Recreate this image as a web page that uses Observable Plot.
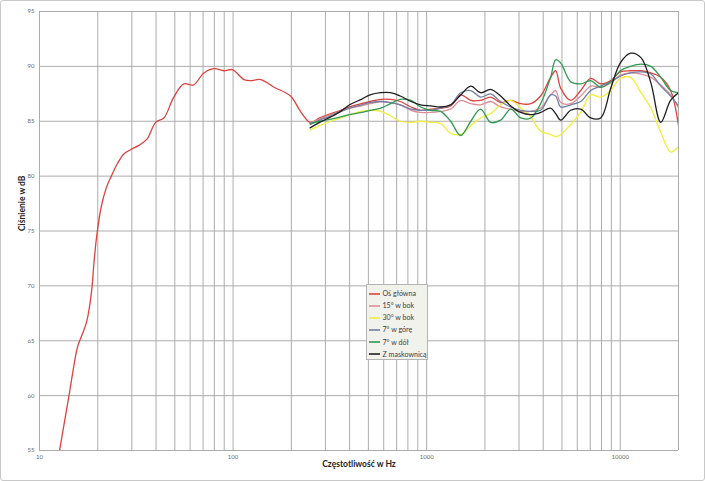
<!DOCTYPE html>
<html><head><meta charset="utf-8">
<script src="https://cdn.jsdelivr.net/npm/d3@7"></script>
<script src="https://cdn.jsdelivr.net/npm/@observablehq/plot@0.6"></script>
<style>
body{margin:0;background:#fff;}
#wrap{position:relative;width:705px;height:481px;font-family:Lato,"Open Sans",sans-serif;}
#frame{position:absolute;left:0;top:0;width:705px;height:481px;box-sizing:border-box;border:1px solid #c8c8c8;border-radius:3px;pointer-events:none;}
#legend{position:absolute;left:366px;top:284px;width:62px;height:76px;box-sizing:border-box;background:#f2f2ec;border:1px solid #b4b4b4;font-size:7.1px;color:#404040;}
.row{position:absolute;left:2px;height:10px;display:flex;align-items:center;white-space:nowrap;}
.row svg{margin-right:2.5px;}
</style></head>
<body><div id="wrap"><div id="chart"></div><div id="legend"></div><div id="frame"></div></div>
<script>
const seriesNames = ["Oś główna","15° w bok","30° w bok","7° w górę","7° w dół","Z maskownicą"];
const seriesColors = ["#d9443f","#dc8e98","#f2ee3a","#6f7fa3","#2f9a52","#1e1e1e"];
const xTitle = "Częstotliwość w Hz";
const yTitle = "Ciśnienie w dB";
const xTickLabels = [10,100,1000,10000];
const yTicks = [55,60,65,70,75,80,85,90,95];
const xGrid = [10,20,30,40,50,60,70,80,90,100,200,300,400,500,600,700,800,900,1000,2000,3000,4000,5000,6000,7000,8000,9000,10000,20000];

// low-frequency part of the main-axis curve
const freqLow = [12.7,14.2,15.7,16.3,17.5,18.2,18.7,19.2,19.9,20.9,22.2,23.5,25.2,27.2,29.5,32.6,36.0,39.8,43.9,49.4,55.7,62.3,70.7,79.6,89.6,99,114,123,139,163,198,223];
const mainLow = [55.0,60.0,64.4,65.2,66.7,68.3,70.0,72.5,75.0,77.3,79.0,80.0,81.1,82.0,82.4,82.8,83.4,84.9,85.3,87.2,88.4,88.3,89.4,89.8,89.6,89.7,88.8,88.7,88.8,88.1,87.3,85.9];

// shared frequencies for all six curves above 250 Hz
const freqHigh = [250,280,320,360,400,460,510,580,650,730,830,930,1050,1180,1330,1500,1690,1900,2140,2410,2720,3060,3450,3880,4370,4640,4930,5550,6250,7040,7930,8930,10000,11300,12800,14400,16200,18200,20000];
const osGlowna = [84.9,85.3,85.7,86.0,86.3,86.6,86.8,87.0,87.0,86.8,86.3,86.0,86.1,86.2,86.4,87.4,86.9,86.9,87.2,86.7,86.9,86.6,86.6,87.3,89.0,89.6,88.0,86.9,87.8,88.9,88.4,88.7,89.5,89.6,89.6,89.4,89.0,87.8,84.6];
const bok15 = [84.8,85.2,85.6,85.9,86.2,86.4,86.6,86.8,86.7,86.5,86.0,85.8,85.8,85.9,86.1,86.9,86.6,86.5,86.8,86.3,86.1,85.9,85.9,86.2,87.4,87.8,86.7,86.6,87.3,88.2,88.1,88.5,89.2,89.4,89.3,89.0,88.3,87.4,86.2];
const bok30 = [84.2,84.6,85.0,85.3,85.6,85.9,86.0,85.9,85.5,85.0,84.9,85.0,84.9,84.8,83.9,83.8,84.6,85.3,85.7,86.5,86.9,86.2,85.4,84.1,83.8,83.6,83.8,84.7,85.8,87.4,87.2,87.8,88.9,89.0,87.6,86.2,84.0,82.2,82.7];
const gore7 = [84.7,85.1,85.5,85.9,86.2,86.5,86.7,86.8,86.7,86.5,86.1,86.0,86.0,86.2,86.5,87.6,87.8,87.2,87.5,86.8,86.3,86.0,85.9,86.0,87.4,87.3,86.3,86.5,86.8,87.8,88.2,88.6,89.1,89.4,89.5,89.3,88.2,87.3,86.4];
const dol7 = [84.8,85.0,85.2,85.4,85.6,85.8,86.0,86.2,86.6,87.0,86.9,86.3,86.0,85.9,85.0,83.7,85.0,86.1,84.9,85.1,86.1,85.3,85.3,86.6,89.0,90.6,90.3,88.6,88.4,88.7,88.1,88.6,89.6,90.0,90.2,90.0,89.0,87.8,87.6];
const maskownica = [84.4,84.9,85.4,85.9,86.5,87.0,87.4,87.6,87.6,87.3,86.8,86.5,86.4,86.3,86.5,87.4,88.2,87.6,87.9,87.3,86.4,85.8,85.6,85.8,86.2,85.7,85.1,86.0,86.1,85.3,85.3,88.0,90.3,91.2,90.8,88.5,84.9,86.9,87.6];

const highSeries = [osGlowna,bok15,bok30,gore7,dol7,maskownica];
const rows = [];
freqLow.forEach((f,i)=>rows.push({series:seriesNames[0], f, db:mainLow[i]}));
highSeries.forEach((vals,s)=>{
  freqHigh.forEach((f,i)=>rows.push({series:seriesNames[s], f, db:vals[i]}));
});

const chart = Plot.plot({
  width:705, height:481,
  marginLeft:39, marginRight:27, marginTop:11, marginBottom:31,
  style:{fontFamily:"Lato, 'Open Sans', sans-serif", background:"#fff"},
  x:{type:"log", domain:[10,20000]},
  y:{domain:[55,95]},
  color:{domain:seriesNames, range:seriesColors},
  marks:[
    Plot.ruleX(xGrid,{stroke:"#acacac", strokeWidth:1}),
    Plot.ruleY(yTicks,{stroke:"#acacac", strokeWidth:1}),
    Plot.axisX({ticks:xTickLabels, tickSize:0, tickPadding:4, tickFormat:d=>String(d), fontSize:6, fill:"#6a6a6a", label:null}),
    Plot.axisY({ticks:yTicks, tickSize:0, tickPadding:5, fontSize:6, fill:"#6a6a6a", label:null}),
    Plot.line(rows,{x:"f", y:"db", z:"series", stroke:"series", strokeWidth:1.3, curve:"catmull-rom", clip:true}),
    Plot.text([xTitle],{text:d=>d, frameAnchor:"bottom", dy:16, fontWeight:"bold", fontSize:8.5, fill:"#222"}),
    Plot.text([yTitle],{text:d=>d, frameAnchor:"left", dx:-17, rotate:-90, fontWeight:"bold", fontSize:8.5, fill:"#222"})
  ]
});
document.getElementById("chart").appendChild(chart);

const legend = document.getElementById("legend");
const NS = "http://www.w3.org/2000/svg";
seriesNames.forEach((name,i)=>{
  const row = document.createElement("div");
  row.className = "row";
  row.style.top = (3.5 + i*12.15) + "px";
  const sw = document.createElementNS(NS,"svg");
  sw.setAttribute("width","11"); sw.setAttribute("height","4");
  const ln = document.createElementNS(NS,"line");
  ln.setAttribute("x1","0"); ln.setAttribute("x2","11");
  ln.setAttribute("y1","2"); ln.setAttribute("y2","2");
  ln.setAttribute("stroke", seriesColors[i]); ln.setAttribute("stroke-width","1.6");
  sw.appendChild(ln);
  const t = document.createElement("span");
  t.textContent = name;
  row.appendChild(sw); row.appendChild(t);
  legend.appendChild(row);
});
</script>
</body></html>
